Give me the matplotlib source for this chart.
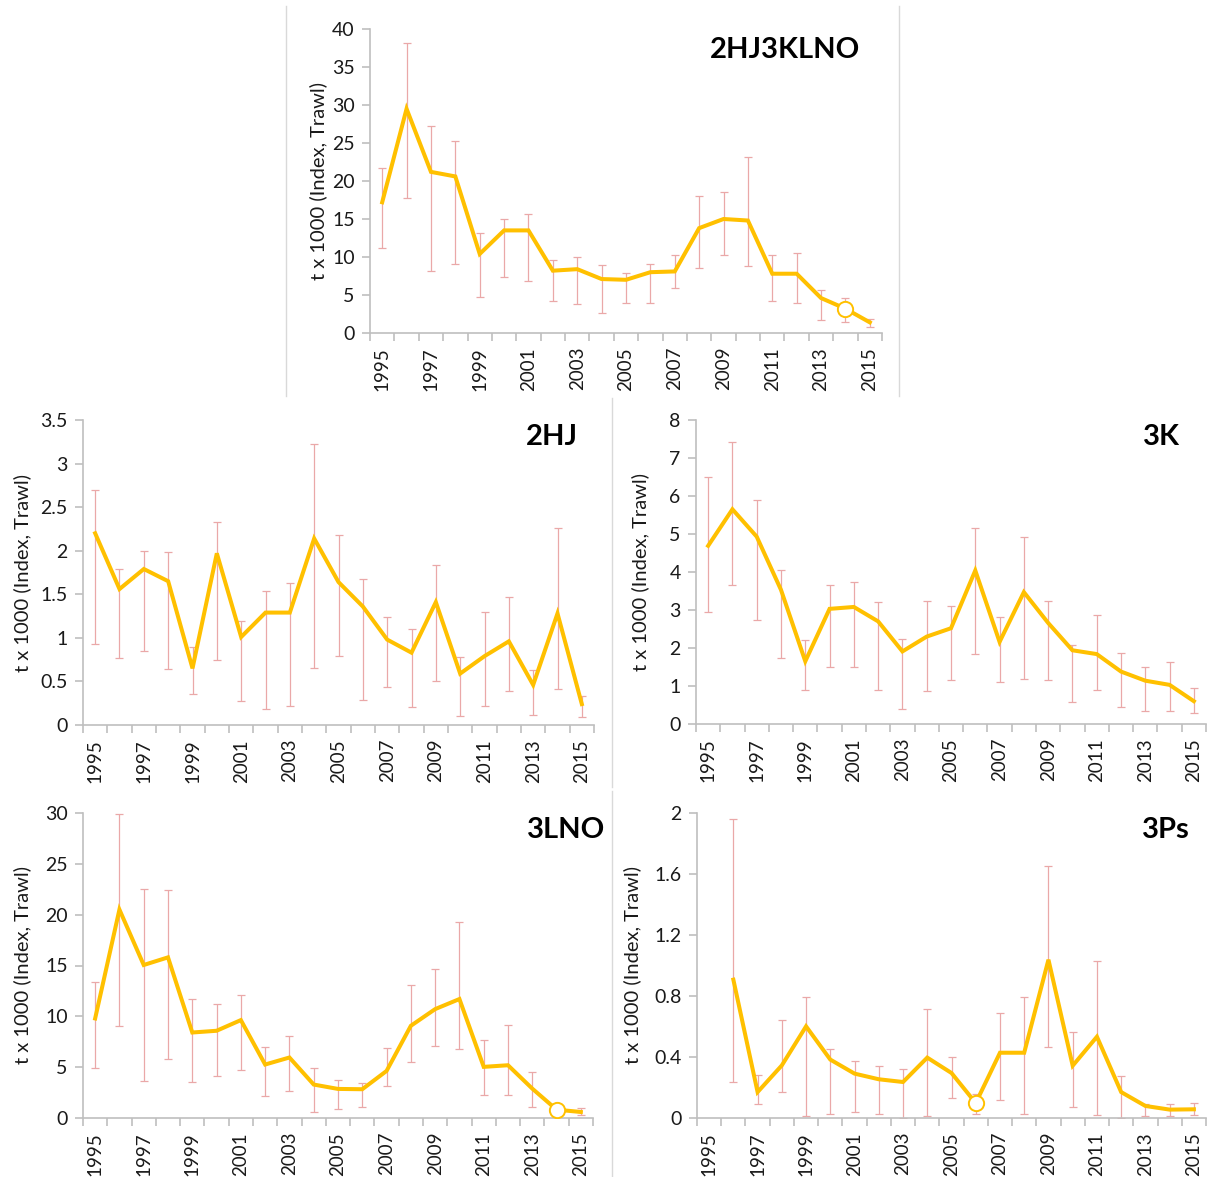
import matplotlib
matplotlib.use('Agg')
import matplotlib.pyplot as plt
from matplotlib.lines import Line2D
import numpy as np

plt.rcParams['font.family'] = ['Lato', 'DejaVu Sans']

years = list(range(1995, 2016))
year_labels = [str(y) for y in range(1995, 2016, 2)]

# 2HJ3KLNO
all_val = [17.2, 29.5, 21.2, 20.6, 10.4, 13.5, 13.5, 8.2, 8.4, 7.1, 7.0, 8.0, 8.1, 13.8, 15.0, 14.8, 7.8, 7.8, 4.6, 3.2, 1.4]
all_hi = [21.7, 38.1, 27.2, 25.2, 13.2, 15.0, 15.6, 9.6, 10.0, 8.9, 7.9, 9.1, 10.2, 18.0, 18.6, 23.2, 10.2, 10.5, 5.6, 4.6, 1.85]
all_lo = [11.2, 17.7, 8.2, 9.1, 4.7, 7.4, 6.9, 4.2, 3.8, 2.6, 3.9, 4.0, 5.9, 8.6, 10.3, 8.8, 4.2, 3.9, 1.75, 1.5, 0.75]

# 2HJ
hj_val = [2.20, 1.56, 1.79, 1.65, 0.65, 1.97, 1.01, 1.29, 1.29, 2.14, 1.64, 1.36, 0.98, 0.83, 1.41, 0.59, 0.79, 0.96, 0.46, 1.28, 0.24]
hj_hi = [2.70, 1.79, 2.00, 1.99, 0.90, 2.33, 1.19, 1.54, 1.63, 3.22, 2.18, 1.67, 1.24, 1.10, 1.84, 0.78, 1.30, 1.47, 0.63, 2.26, 0.33]
hj_lo = [0.93, 0.77, 0.85, 0.64, 0.36, 0.75, 0.28, 0.18, 0.22, 0.65, 0.79, 0.29, 0.44, 0.21, 0.50, 0.10, 0.22, 0.39, 0.11, 0.41, 0.09]

# 3K
k_val = [4.69, 5.65, 4.93, 3.53, 1.65, 3.03, 3.08, 2.70, 1.91, 2.30, 2.52, 4.04, 2.16, 3.47, 2.66, 1.94, 1.84, 1.38, 1.14, 1.03, 0.60]
k_hi = [6.49, 7.41, 5.89, 4.06, 2.22, 3.66, 3.75, 3.21, 2.23, 3.24, 3.11, 5.17, 2.82, 4.93, 3.23, 2.09, 2.86, 1.86, 1.51, 1.62, 0.94]
k_lo = [2.94, 3.65, 2.73, 1.73, 0.90, 1.49, 1.49, 0.90, 0.39, 0.88, 1.15, 1.84, 1.10, 1.19, 1.17, 0.58, 0.90, 0.45, 0.35, 0.35, 0.29]

# 3LNO
lno_val = [9.79, 20.5, 15.05, 15.8, 8.41, 8.58, 9.63, 5.26, 5.95, 3.29, 2.86, 2.83, 4.63, 9.07, 10.71, 11.70, 5.03, 5.19, 2.89, 0.82, 0.59]
lno_hi = [13.34, 29.9, 22.5, 22.4, 11.73, 11.17, 12.13, 6.97, 8.08, 4.96, 3.71, 3.45, 6.90, 13.08, 14.69, 19.32, 7.69, 9.14, 4.50, 1.10, 1.02]
lno_lo = [4.96, 9.07, 3.65, 5.85, 3.58, 4.17, 4.70, 2.14, 2.63, 0.56, 0.92, 1.08, 3.15, 5.52, 7.07, 6.77, 2.30, 2.30, 1.08, 0.55, 0.26]

# 3Ps
ps_val = [np.nan, 0.907, 0.170, 0.345, 0.601, 0.383, 0.291, 0.254, 0.236, 0.396, 0.295, 0.098, 0.428, 0.428, 1.038, 0.343, 0.533, 0.170, 0.079, 0.055, 0.057]
ps_hi = [np.nan, 1.958, 0.284, 0.643, 0.796, 0.450, 0.374, 0.339, 0.319, 0.713, 0.402, 0.155, 0.689, 0.791, 1.655, 0.562, 1.030, 0.275, 0.092, 0.090, 0.098]
ps_lo = [np.nan, 0.236, 0.094, 0.168, 0.011, 0.024, 0.037, 0.024, 0.002, 0.011, 0.131, 0.028, 0.116, 0.028, 0.466, 0.072, 0.017, 0.002, 0.011, 0.011, 0.017]

W, H = 1225, 1177
fig = plt.figure(figsize=(W / 100, H / 100), dpi=100)

LINE = '#FFC000'
ERR = '#EAA8A8'
AX = '#BFBFBF'
TXT = '#1a1a1a'

panels = [
    dict(name='2HJ3KLNO', val=all_val, hi=all_hi, lo=all_lo, rect=(370, 29, 882, 333),
         yticks=[0, 5, 10, 15, 20, 25, 30, 35, 40], open_idx=19,
         title_xy=(860, 50), ylab_x=318),
    dict(name='2HJ', val=hj_val, hi=hj_hi, lo=hj_lo, rect=(83, 420, 594, 725),
         yticks=[0, 0.5, 1, 1.5, 2, 2.5, 3, 3.5], open_idx=None,
         title_xy=(578, 437), ylab_x=22),
    dict(name='3K', val=k_val, hi=k_hi, lo=k_lo, rect=(696, 420, 1206, 724),
         yticks=[0, 1, 2, 3, 4, 5, 6, 7, 8], open_idx=None,
         title_xy=(1180, 437), ylab_x=640),
    dict(name='3LNO', val=lno_val, hi=lno_hi, lo=lno_lo, rect=(83, 813, 593, 1118),
         yticks=[0, 5, 10, 15, 20, 25, 30], open_idx=19,
         title_xy=(605, 830), ylab_x=22),
    dict(name='3Ps', val=ps_val, hi=ps_hi, lo=ps_lo, rect=(697, 813, 1206, 1118),
         yticks=[0, 0.4, 0.8, 1.2, 1.6, 2], open_idx=11,
         title_xy=(1190, 830), ylab_x=632),
]

x = np.arange(len(years))
label_pos = [years.index(int(y)) for y in year_labels]

for p in panels:
    l, t, r, b = p['rect']
    ax = fig.add_axes([l / W, 1 - b / H, (r - l) / W, (b - t) / H])
    v = np.array(p['val'], dtype=float)
    hi = np.array(p['hi'], dtype=float)
    lo = np.array(p['lo'], dtype=float)
    ax.errorbar(x, v, yerr=[v - lo, hi - v], fmt='none', ecolor=ERR,
                elinewidth=0.9, capsize=3.2, capthick=0.9, zorder=2)
    ax.plot(x, v, color=LINE, lw=2.9, solid_joinstyle='miter', zorder=3)
    if p['open_idx'] is not None:
        i = p['open_idx']
        ax.plot(x[i], v[i], 'o', mfc='white', mec=LINE, ms=11, mew=1.4, zorder=4)
    ax.set_xlim(-0.5, len(years) - 0.5)
    ax.set_ylim(p['yticks'][0], p['yticks'][-1])
    ax.set_yticks(p['yticks'])
    ax.set_yticklabels(['{:g}'.format(tv) for tv in p['yticks']])
    ax.set_xticks(np.arange(-0.5, len(years), 1.0))
    ax.set_xticklabels([])
    ax.set_xticks(label_pos, minor=True)
    ax.set_xticklabels(year_labels, minor=True, rotation=90)
    for s in ['top', 'right']:
        ax.spines[s].set_visible(False)
    for s in ['left', 'bottom']:
        ax.spines[s].set_color(AX)
        ax.spines[s].set_linewidth(1.2)
    ax.tick_params(axis='x', which='major', length=6, color=AX, width=1.2, direction='out')
    ax.tick_params(axis='x', which='minor', length=0, pad=10, labelsize=13.5, labelcolor=TXT)
    ax.tick_params(axis='y', length=6, color=AX, width=1.2, direction='out', pad=5,
                   labelsize=14, labelcolor=TXT)
    ax.patch.set_alpha(0)
    tx, ty = p['title_xy']
    fig.text(tx / W, 1 - ty / H, p['name'], ha='right', va='center',
             fontsize=21, fontweight='bold', color='black')
    fig.text(p['ylab_x'] / W, 1 - ((t + b) / 2) / H, 't x 1000 (Index, Trawl)',
             rotation=90, ha='center', va='center', fontsize=14.5, color=TXT)

# panel borders
def vline(xp, y0, y1):
    fig.add_artist(Line2D([xp / W, xp / W], [1 - y0 / H, 1 - y1 / H],
                          transform=fig.transFigure, color='#d9d9d9', lw=1))

vline(286, 6, 396)
vline(899, 6, 396)
vline(612, 398, 787)
vline(612, 791, 1177)

fig.savefig('out.png', dpi=100)
